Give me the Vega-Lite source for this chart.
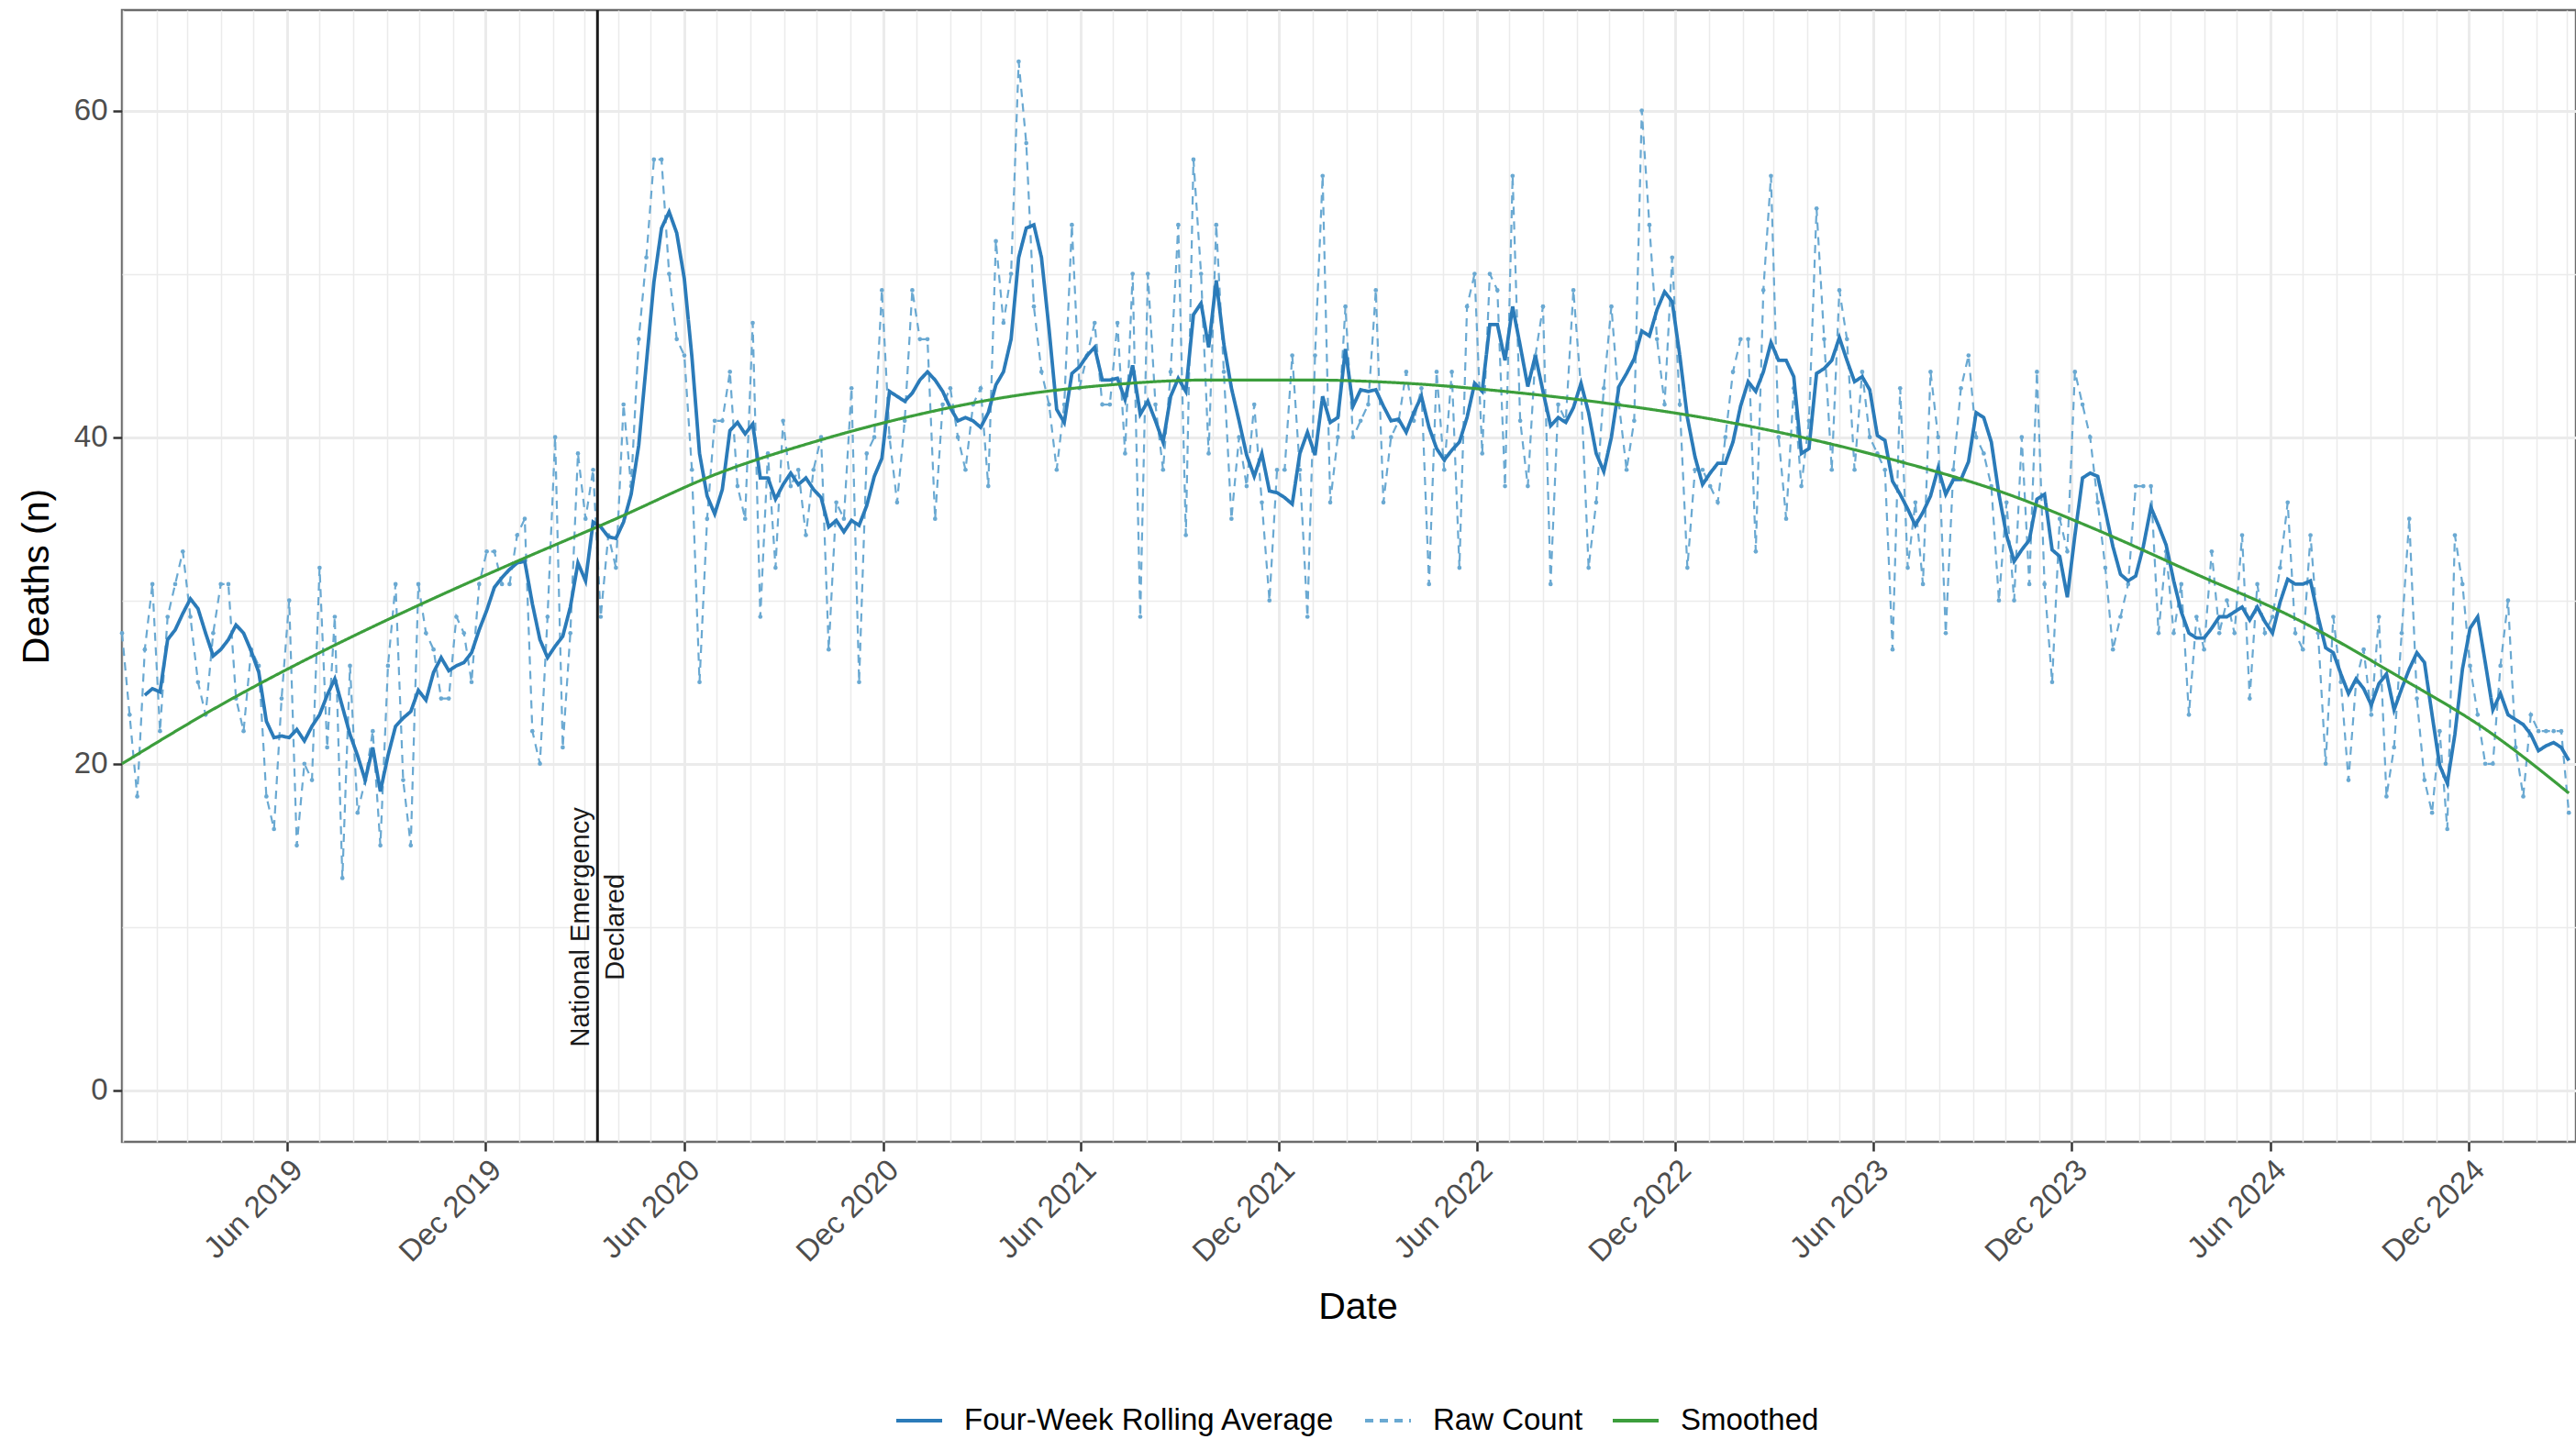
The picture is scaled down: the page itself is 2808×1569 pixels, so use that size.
{
  "$schema": "https://vega.github.io/schema/vega-lite/v6.json",
  "width": 2675,
  "height": 1234,
  "autosize": {"type": "none"},
  "padding": {"left": 133, "top": 11, "right": 0, "bottom": 324},
  "background": "white",
  "config": {
    "font": "Liberation Sans",
    "view": {"stroke": "#6b6b6b", "strokeWidth": 2.5}
  },
  "datasets": {
    "weekly": [
      {"d":"2018-12-31","raw":28,"avg":null},{"d":"2019-01-07","raw":23,"avg":null},{"d":"2019-01-14","raw":18,"avg":null},
      {"d":"2019-01-21","raw":27,"avg":24.2},{"d":"2019-01-28","raw":31,"avg":24.6},{"d":"2019-02-04","raw":22,"avg":24.4},
      {"d":"2019-02-11","raw":29,"avg":27.6},{"d":"2019-02-18","raw":31,"avg":28.2},{"d":"2019-02-25","raw":33,"avg":29.2},
      {"d":"2019-03-04","raw":29,"avg":30.1},{"d":"2019-03-11","raw":25,"avg":29.5},{"d":"2019-03-18","raw":23,"avg":28},
      {"d":"2019-03-25","raw":28,"avg":26.6},{"d":"2019-04-01","raw":31,"avg":27},{"d":"2019-04-08","raw":31,"avg":27.6},
      {"d":"2019-04-15","raw":24,"avg":28.5},{"d":"2019-04-22","raw":22,"avg":28},{"d":"2019-04-29","raw":27,"avg":26.9},
      {"d":"2019-05-06","raw":26,"avg":25.6},{"d":"2019-05-13","raw":18,"avg":22.6},{"d":"2019-05-20","raw":16,"avg":21.6},
      {"d":"2019-05-27","raw":24,"avg":21.7},{"d":"2019-06-03","raw":30,"avg":21.6},{"d":"2019-06-10","raw":15,"avg":22.1},
      {"d":"2019-06-17","raw":20,"avg":21.4},{"d":"2019-06-24","raw":19,"avg":22.3},{"d":"2019-07-01","raw":32,"avg":23},
      {"d":"2019-07-08","raw":21,"avg":24.2},{"d":"2019-07-15","raw":29,"avg":25.2},{"d":"2019-07-22","raw":13,"avg":23.5},
      {"d":"2019-07-29","raw":26,"avg":21.8},{"d":"2019-08-05","raw":17,"avg":20.5},{"d":"2019-08-12","raw":19,"avg":19},
      {"d":"2019-08-19","raw":22,"avg":21},{"d":"2019-08-26","raw":15,"avg":18.3},{"d":"2019-09-02","raw":26,"avg":20.5},
      {"d":"2019-09-09","raw":31,"avg":22.3},{"d":"2019-09-16","raw":19,"avg":22.8},{"d":"2019-09-23","raw":15,"avg":23.2},
      {"d":"2019-09-30","raw":31,"avg":24.5},{"d":"2019-10-07","raw":28,"avg":23.9},{"d":"2019-10-14","raw":27,"avg":25.6},
      {"d":"2019-10-21","raw":24,"avg":26.5},{"d":"2019-10-28","raw":24,"avg":25.7},{"d":"2019-11-04","raw":29,"avg":26},
      {"d":"2019-11-11","raw":28,"avg":26.2},{"d":"2019-11-18","raw":25,"avg":26.8},{"d":"2019-11-25","raw":31,"avg":28.2},
      {"d":"2019-12-02","raw":33,"avg":29.4},{"d":"2019-12-09","raw":33,"avg":30.8},{"d":"2019-12-16","raw":31,"avg":31.4},
      {"d":"2019-12-23","raw":31,"avg":31.9},{"d":"2019-12-30","raw":34,"avg":32.3},
      {"d":"2020-01-06","raw":35,"avg":32.4},{"d":"2020-01-13","raw":22,"avg":29.8},{"d":"2020-01-20","raw":20,"avg":27.6},
      {"d":"2020-01-27","raw":29,"avg":26.5},{"d":"2020-02-03","raw":40,"avg":27.2},{"d":"2020-02-10","raw":21,"avg":27.8},
      {"d":"2020-02-17","raw":28,"avg":29.6},{"d":"2020-02-24","raw":39,"avg":32.3},{"d":"2020-03-02","raw":35,"avg":31.2},
      {"d":"2020-03-09","raw":38,"avg":34.8},{"d":"2020-03-16","raw":29,"avg":34.5},{"d":"2020-03-23","raw":34,"avg":33.9},
      {"d":"2020-03-30","raw":32,"avg":33.8},{"d":"2020-04-06","raw":42,"avg":34.8},{"d":"2020-04-13","raw":37,"avg":36.5},
      {"d":"2020-04-20","raw":46,"avg":39.5},{"d":"2020-04-27","raw":51,"avg":44.5},{"d":"2020-05-04","raw":57,"avg":49.5},
      {"d":"2020-05-11","raw":57,"avg":52.8},{"d":"2020-05-18","raw":50,"avg":53.8},{"d":"2020-05-25","raw":46,"avg":52.5},
      {"d":"2020-06-01","raw":45,"avg":49.7},{"d":"2020-06-08","raw":38,"avg":44.9},{"d":"2020-06-15","raw":25,"avg":39},
      {"d":"2020-06-22","raw":35,"avg":36.4},{"d":"2020-06-29","raw":41,"avg":35.3},{"d":"2020-07-06","raw":41,"avg":36.8},
      {"d":"2020-07-13","raw":44,"avg":40.4},{"d":"2020-07-20","raw":37,"avg":40.9},{"d":"2020-07-27","raw":35,"avg":40.2},
      {"d":"2020-08-03","raw":47,"avg":40.8},{"d":"2020-08-10","raw":29,"avg":37.5},{"d":"2020-08-17","raw":39,"avg":37.5},
      {"d":"2020-08-24","raw":32,"avg":36.2},{"d":"2020-08-31","raw":41,"avg":37.1},{"d":"2020-09-07","raw":37,"avg":37.8},
      {"d":"2020-09-14","raw":38,"avg":37.1},{"d":"2020-09-21","raw":34,"avg":37.5},{"d":"2020-09-28","raw":38,"avg":36.8},
      {"d":"2020-10-05","raw":40,"avg":36.3},{"d":"2020-10-12","raw":27,"avg":34.5},{"d":"2020-10-19","raw":36,"avg":34.9},
      {"d":"2020-10-26","raw":35,"avg":34.2},{"d":"2020-11-02","raw":43,"avg":34.9},{"d":"2020-11-09","raw":25,"avg":34.6},
      {"d":"2020-11-16","raw":39,"avg":35.8},{"d":"2020-11-23","raw":40,"avg":37.6},{"d":"2020-11-30","raw":49,"avg":38.7},
      {"d":"2020-12-07","raw":40,"avg":42.8},{"d":"2020-12-14","raw":36,"avg":42.5},{"d":"2020-12-21","raw":41,"avg":42.2},
      {"d":"2020-12-28","raw":49,"avg":42.7},
      {"d":"2021-01-04","raw":46,"avg":43.5},{"d":"2021-01-11","raw":46,"avg":44},{"d":"2021-01-18","raw":35,"avg":43.5},
      {"d":"2021-01-25","raw":42,"avg":42.8},{"d":"2021-02-01","raw":43,"avg":41.8},{"d":"2021-02-08","raw":40,"avg":41},
      {"d":"2021-02-15","raw":38,"avg":41.2},{"d":"2021-02-22","raw":42,"avg":41},{"d":"2021-03-01","raw":43,"avg":40.6},
      {"d":"2021-03-08","raw":37,"avg":41.5},{"d":"2021-03-15","raw":52,"avg":43.2},{"d":"2021-03-22","raw":47,"avg":44},
      {"d":"2021-03-29","raw":50,"avg":46},{"d":"2021-04-05","raw":63,"avg":51},{"d":"2021-04-12","raw":58,"avg":52.8},
      {"d":"2021-04-19","raw":48,"avg":53},{"d":"2021-04-26","raw":44,"avg":51},{"d":"2021-05-03","raw":42,"avg":46.6},
      {"d":"2021-05-10","raw":38,"avg":41.7},{"d":"2021-05-17","raw":42,"avg":40.9},{"d":"2021-05-24","raw":53,"avg":43.9},
      {"d":"2021-05-31","raw":43,"avg":44.3},{"d":"2021-06-07","raw":45,"avg":45},{"d":"2021-06-14","raw":47,"avg":45.5},
      {"d":"2021-06-21","raw":42,"avg":43.5},{"d":"2021-06-28","raw":42,"avg":43.5},{"d":"2021-07-05","raw":47,"avg":43.6},
      {"d":"2021-07-12","raw":39,"avg":42.3},{"d":"2021-07-19","raw":50,"avg":44.4},{"d":"2021-07-26","raw":29,"avg":41.4},
      {"d":"2021-08-02","raw":50,"avg":42.2},{"d":"2021-08-09","raw":42,"avg":41},{"d":"2021-08-16","raw":38,"avg":39.7},
      {"d":"2021-08-23","raw":44,"avg":42.5},{"d":"2021-08-30","raw":53,"avg":43.6},{"d":"2021-09-06","raw":34,"avg":42.8},
      {"d":"2021-09-13","raw":57,"avg":47.5},{"d":"2021-09-20","raw":50,"avg":48.2},{"d":"2021-09-27","raw":39,"avg":45.5},
      {"d":"2021-10-04","raw":53,"avg":49.6},{"d":"2021-10-11","raw":44,"avg":45.7},{"d":"2021-10-18","raw":35,"avg":43},
      {"d":"2021-10-25","raw":40,"avg":41},{"d":"2021-11-01","raw":37,"avg":38.9},{"d":"2021-11-08","raw":42,"avg":37.6},
      {"d":"2021-11-15","raw":36,"avg":39},{"d":"2021-11-22","raw":30,"avg":36.7},{"d":"2021-11-29","raw":38,"avg":36.6},
      {"d":"2021-12-06","raw":38,"avg":36.3},{"d":"2021-12-13","raw":45,"avg":35.9},{"d":"2021-12-20","raw":38,"avg":39},
      {"d":"2021-12-27","raw":29,"avg":40.3},
      {"d":"2022-01-03","raw":45,"avg":38.9},{"d":"2022-01-10","raw":56,"avg":42.5},{"d":"2022-01-17","raw":36,"avg":40.9},
      {"d":"2022-01-24","raw":40,"avg":41.2},{"d":"2022-01-31","raw":48,"avg":45.4},{"d":"2022-02-07","raw":40,"avg":41.9},
      {"d":"2022-02-14","raw":41,"avg":42.9},{"d":"2022-02-21","raw":42,"avg":42.8},{"d":"2022-02-28","raw":49,"avg":42.9},
      {"d":"2022-03-07","raw":36,"avg":41.9},{"d":"2022-03-14","raw":40,"avg":41},{"d":"2022-03-21","raw":41,"avg":41.1},
      {"d":"2022-03-28","raw":44,"avg":40.3},{"d":"2022-04-04","raw":41,"avg":41.5},{"d":"2022-04-11","raw":43,"avg":42.5},
      {"d":"2022-04-18","raw":31,"avg":40.6},{"d":"2022-04-25","raw":44,"avg":39.3},{"d":"2022-05-02","raw":38,"avg":38.6},
      {"d":"2022-05-09","raw":44,"avg":39.2},{"d":"2022-05-16","raw":32,"avg":39.7},{"d":"2022-05-23","raw":48,"avg":41.2},
      {"d":"2022-05-30","raw":50,"avg":43.3},{"d":"2022-06-06","raw":39,"avg":42.8},{"d":"2022-06-13","raw":50,"avg":46.9},
      {"d":"2022-06-20","raw":49,"avg":46.9},{"d":"2022-06-27","raw":37,"avg":44.7},{"d":"2022-07-04","raw":56,"avg":48},
      {"d":"2022-07-11","raw":41,"avg":45.6},{"d":"2022-07-18","raw":37,"avg":43.1},{"d":"2022-07-25","raw":45,"avg":45},
      {"d":"2022-08-01","raw":48,"avg":42.8},{"d":"2022-08-08","raw":31,"avg":40.7},{"d":"2022-08-15","raw":42,"avg":41.2},
      {"d":"2022-08-22","raw":41,"avg":40.9},{"d":"2022-08-29","raw":49,"avg":41.8},{"d":"2022-09-05","raw":43,"avg":43.3},
      {"d":"2022-09-12","raw":32,"avg":41.5},{"d":"2022-09-19","raw":36,"avg":39},{"d":"2022-09-26","raw":43,"avg":37.9},
      {"d":"2022-10-03","raw":48,"avg":40},{"d":"2022-10-10","raw":42,"avg":43.1},{"d":"2022-10-17","raw":38,"avg":43.9},
      {"d":"2022-10-24","raw":41,"avg":44.8},{"d":"2022-10-31","raw":60,"avg":46.5},{"d":"2022-11-07","raw":53,"avg":46.2},
      {"d":"2022-11-14","raw":46,"avg":47.8},{"d":"2022-11-21","raw":42,"avg":48.9},{"d":"2022-11-28","raw":51,"avg":48.3},
      {"d":"2022-12-05","raw":42,"avg":45},{"d":"2022-12-12","raw":32,"avg":41.2},{"d":"2022-12-19","raw":38,"avg":38.8},
      {"d":"2022-12-26","raw":38,"avg":37.1},
      {"d":"2023-01-02","raw":37,"avg":37.8},{"d":"2023-01-09","raw":36,"avg":38.4},{"d":"2023-01-16","raw":40,"avg":38.4},
      {"d":"2023-01-23","raw":44,"avg":39.7},{"d":"2023-01-30","raw":46,"avg":41.9},{"d":"2023-02-06","raw":46,"avg":43.4},
      {"d":"2023-02-13","raw":33,"avg":42.8},{"d":"2023-02-20","raw":49,"avg":44},{"d":"2023-02-27","raw":56,"avg":45.8},
      {"d":"2023-03-06","raw":40,"avg":44.7},{"d":"2023-03-13","raw":35,"avg":44.7},{"d":"2023-03-20","raw":43,"avg":43.7},
      {"d":"2023-03-27","raw":37,"avg":39},{"d":"2023-04-03","raw":41,"avg":39.3},{"d":"2023-04-10","raw":54,"avg":43.9},
      {"d":"2023-04-17","raw":46,"avg":44.2},{"d":"2023-04-24","raw":38,"avg":44.7},{"d":"2023-05-01","raw":49,"avg":46.1},
      {"d":"2023-05-08","raw":46,"avg":44.7},{"d":"2023-05-15","raw":38,"avg":43.4},{"d":"2023-05-22","raw":44,"avg":43.7},
      {"d":"2023-05-29","raw":40,"avg":42.9},{"d":"2023-06-05","raw":39,"avg":40.1},{"d":"2023-06-12","raw":38,"avg":39.8},
      {"d":"2023-06-19","raw":27,"avg":37.3},{"d":"2023-06-26","raw":43,"avg":36.5},{"d":"2023-07-03","raw":32,"avg":35.6},
      {"d":"2023-07-10","raw":36,"avg":34.6},{"d":"2023-07-17","raw":31,"avg":35.4},{"d":"2023-07-24","raw":44,"avg":36.4},
      {"d":"2023-07-31","raw":40,"avg":38.1},{"d":"2023-08-07","raw":28,"avg":36.5},{"d":"2023-08-14","raw":38,"avg":37.4},
      {"d":"2023-08-21","raw":43,"avg":37.4},{"d":"2023-08-28","raw":45,"avg":38.5},{"d":"2023-09-04","raw":40,"avg":41.5},
      {"d":"2023-09-11","raw":39,"avg":41.2},{"d":"2023-09-18","raw":37,"avg":39.7},{"d":"2023-09-25","raw":30,"avg":36.5},
      {"d":"2023-10-02","raw":36,"avg":34},{"d":"2023-10-09","raw":30,"avg":32.4},{"d":"2023-10-16","raw":40,"avg":33.1},
      {"d":"2023-10-23","raw":31,"avg":33.7},{"d":"2023-10-30","raw":44,"avg":36.2},{"d":"2023-11-06","raw":31,"avg":36.5},
      {"d":"2023-11-13","raw":25,"avg":33.1},{"d":"2023-11-20","raw":35,"avg":32.7},{"d":"2023-11-27","raw":33,"avg":30.2},
      {"d":"2023-12-04","raw":44,"avg":34},{"d":"2023-12-11","raw":42,"avg":37.5},{"d":"2023-12-18","raw":40,"avg":37.8},
      {"d":"2023-12-25","raw":36,"avg":37.6},
      {"d":"2024-01-01","raw":32,"avg":35.5},{"d":"2024-01-08","raw":27,"avg":33.3},{"d":"2024-01-15","raw":29,"avg":31.6},
      {"d":"2024-01-22","raw":31,"avg":31.2},{"d":"2024-01-29","raw":37,"avg":31.5},{"d":"2024-02-05","raw":37,"avg":33.3},
      {"d":"2024-02-12","raw":37,"avg":35.7},{"d":"2024-02-19","raw":28,"avg":34.6},{"d":"2024-02-26","raw":33,"avg":33.4},
      {"d":"2024-03-04","raw":28,"avg":31.2},{"d":"2024-03-11","raw":31,"avg":29.3},{"d":"2024-03-18","raw":23,"avg":28},
      {"d":"2024-03-25","raw":29,"avg":27.7},{"d":"2024-04-01","raw":27,"avg":27.7},{"d":"2024-04-08","raw":33,"avg":28.3},
      {"d":"2024-04-15","raw":28,"avg":29},{"d":"2024-04-22","raw":30,"avg":29},{"d":"2024-04-29","raw":28,"avg":29.3},
      {"d":"2024-05-06","raw":34,"avg":29.6},{"d":"2024-05-13","raw":24,"avg":28.8},{"d":"2024-05-20","raw":31,"avg":29.6},
      {"d":"2024-05-27","raw":28,"avg":28.7},{"d":"2024-06-03","raw":29,"avg":28},{"d":"2024-06-10","raw":32,"avg":29.9},
      {"d":"2024-06-17","raw":36,"avg":31.3},{"d":"2024-06-24","raw":28,"avg":31},{"d":"2024-07-01","raw":27,"avg":31},
      {"d":"2024-07-08","raw":34,"avg":31.2},{"d":"2024-07-15","raw":28,"avg":29},{"d":"2024-07-22","raw":20,"avg":27.1},
      {"d":"2024-07-29","raw":29,"avg":26.8},{"d":"2024-08-05","raw":25,"avg":25.5},{"d":"2024-08-12","raw":19,"avg":24.3},
      {"d":"2024-08-19","raw":25,"avg":25.2},{"d":"2024-08-26","raw":27,"avg":24.6},{"d":"2024-09-02","raw":23,"avg":23.6},
      {"d":"2024-09-09","raw":29,"avg":24.9},{"d":"2024-09-16","raw":18,"avg":25.5},{"d":"2024-09-23","raw":21,"avg":23.3},
      {"d":"2024-09-30","raw":28,"avg":24.6},{"d":"2024-10-07","raw":35,"avg":25.8},{"d":"2024-10-14","raw":24,"avg":26.8},
      {"d":"2024-10-21","raw":19,"avg":26.2},{"d":"2024-10-28","raw":17,"avg":23},{"d":"2024-11-04","raw":22,"avg":19.9},
      {"d":"2024-11-11","raw":16,"avg":18.8},{"d":"2024-11-18","raw":34,"avg":21.8},{"d":"2024-11-25","raw":31,"avg":25.8},
      {"d":"2024-12-02","raw":26,"avg":28.3},{"d":"2024-12-09","raw":23,"avg":29},{"d":"2024-12-16","raw":20,"avg":26.2},
      {"d":"2024-12-23","raw":20,"avg":23.3},{"d":"2024-12-30","raw":26,"avg":24.3},
      {"d":"2025-01-06","raw":30,"avg":23},{"d":"2025-01-13","raw":21,"avg":22.7},{"d":"2025-01-20","raw":18,"avg":22.4},
      {"d":"2025-01-27","raw":23,"avg":21.8},{"d":"2025-02-03","raw":22,"avg":20.8},{"d":"2025-02-10","raw":22,"avg":21.1},
      {"d":"2025-02-17","raw":22,"avg":21.3},{"d":"2025-02-24","raw":22,"avg":21},{"d":"2025-03-03","raw":17,"avg":20.2}
    ],
    "smooth": [
      {"d":"2018-12-31","fit":20.0},{"d":"2019-04-01","fit":23.6},{"d":"2019-07-01","fit":26.8},{"d":"2019-09-30","fit":29.7},
      {"d":"2019-12-30","fit":32.4},{"d":"2020-03-30","fit":35.0},{"d":"2020-06-29","fit":37.7},{"d":"2020-09-28","fit":39.7},
      {"d":"2020-12-28","fit":41.3},{"d":"2021-03-29","fit":42.5},{"d":"2021-06-28","fit":43.2},{"d":"2021-09-27","fit":43.5},
      {"d":"2021-12-27","fit":43.5},{"d":"2022-03-28","fit":43.3},{"d":"2022-06-27","fit":42.8},{"d":"2022-09-26","fit":42.1},
      {"d":"2022-12-26","fit":41.2},{"d":"2023-03-27","fit":40.0},{"d":"2023-06-26","fit":38.5},{"d":"2023-09-25","fit":36.7},
      {"d":"2023-12-25","fit":34.3},{"d":"2024-03-25","fit":31.6},{"d":"2024-06-24","fit":28.9},{"d":"2024-09-23","fit":25.5},
      {"d":"2024-12-23","fit":21.8},{"d":"2025-03-03","fit":18.2}
    ],
    "event": [
      {"d":"2020-03-13","label":"National Emergency\nDeclared"}
    ]
  },
  "encoding": {
    "x": {
      "field": "d",
      "type": "temporal",
      "title": "Date",
      "scale": {
        "type": "utc",
        "nice": false,
        "domain": [
          {"year": 2018, "month": 12, "date": 31, "utc": true},
          {"year": 2025, "month": 3, "date": 9, "hours": 14, "utc": true}
        ]
      },
      "axis": {
        "tickCount": {"interval": "month", "step": 1},
        "labelExpr": "utcmonth(datum.value) % 6 == 5 ? utcFormat(datum.value, '%b %Y') : ''",
        "labelAngle": -45,
        "labelAlign": "right",
        "labelBaseline": "top",
        "labelFontSize": 33,
        "labelColor": "#4d4d4d",
        "labelPadding": 4,
        "labelOverlap": false,
        "labelFlush": false,
        "labelBound": false,
        "grid": true,
        "gridColor": "#ebebeb",
        "gridWidth": {"condition": {"test": "utcmonth(datum.value) % 6 == 5", "value": 3}, "value": 1.5},
        "ticks": true,
        "tickSize": 10,
        "tickWidth": 2.5,
        "tickColor": "#333333",
        "tickOpacity": {"condition": {"test": "utcmonth(datum.value) % 6 == 5", "value": 1}, "value": 0},
        "domain": false,
        "titleFontSize": 41,
        "titleFontWeight": "normal",
        "titleColor": "#000000",
        "titleX": 1347,
        "titleY": 180,
        "titleBaseline": "middle",
        "titleAlign": "center"
      }
    }
  },
  "layer": [
    {
      "data": {"name": "weekly"},
      "mark": {"type": "line", "strokeWidth": 2.2},
      "encoding": {
        "y": {
          "field": "raw",
          "type": "quantitative",
          "title": "Deaths (n)",
          "scale": {"domain": [-3.15, 66.15], "nice": false, "zero": false},
          "axis": {
            "values": [0, 10, 20, 30, 40, 50, 60],
            "labelExpr": "datum.value % 20 == 0 ? datum.label : ''",
            "labelFontSize": 33,
            "labelColor": "#4d4d4d",
            "labelPadding": 6,
            "grid": true,
            "gridColor": "#ebebeb",
            "gridWidth": {"condition": {"test": "datum.value % 20 == 0", "value": 3}, "value": 1.5},
            "tickSize": 10,
            "tickWidth": 2.5,
            "tickColor": "#333333",
            "tickOpacity": {"condition": {"test": "datum.value % 20 == 0", "value": 1}, "value": 0},
            "domain": false,
            "titleFontSize": 41,
            "titleFontWeight": "normal",
            "titleColor": "#000000",
            "titleAngle": -90,
            "titleX": -93,
            "titleY": 617,
            "titleBaseline": "middle",
            "titleAlign": "center"
          }
        },
        "color": {
          "datum": "Raw Count",
          "scale": {
            "domain": ["Four-Week Rolling Average", "Raw Count", "Smoothed"],
            "range": ["#2b7bb9", "#6aa9d2", "#3c9e3c"]
          },
          "legend": {
            "title": null, "orient": "none", "legendX": 842, "legendY": 1511, "direction": "horizontal",
            "symbolType": "stroke", "symbolSize": 2500, "symbolStrokeWidth": 4,
            "labelFontSize": 33, "labelColor": "#000000", "labelOffset": 22, "labelLimit": 0, "columnPadding": 24, "padding": 0
          }
        },
        "strokeDash": {
          "datum": "Raw Count",
          "scale": {
            "domain": ["Four-Week Rolling Average", "Raw Count", "Smoothed"],
            "range": [[1, 0], [9, 7], [1, 0]]
          },
          "legend": {
            "title": null, "orient": "none", "legendX": 842, "legendY": 1511, "direction": "horizontal",
            "symbolType": "stroke", "symbolSize": 2500, "symbolStrokeWidth": 4,
            "labelFontSize": 33, "labelColor": "#000000", "labelOffset": 22, "labelLimit": 0, "columnPadding": 24, "padding": 0
          }
        }
      }
    },
    {
      "data": {"name": "weekly"},
      "mark": {"type": "point", "filled": true, "size": 22, "color": "#6aa9d2", "opacity": 1},
      "encoding": {
        "y": {"field": "raw", "type": "quantitative", "title": "Deaths (n)"}
      }
    },
    {
      "data": {"name": "weekly"},
      "mark": {"type": "line", "strokeWidth": 3.8},
      "encoding": {
        "y": {"field": "avg", "type": "quantitative", "title": "Deaths (n)"},
        "color": {"datum": "Four-Week Rolling Average"},
        "strokeDash": {"datum": "Four-Week Rolling Average"}
      }
    },
    {
      "data": {"name": "smooth"},
      "mark": {"type": "line", "strokeWidth": 3.2, "interpolate": "monotone"},
      "encoding": {
        "y": {"field": "fit", "type": "quantitative", "title": "Deaths (n)"},
        "color": {"datum": "Smoothed"},
        "strokeDash": {"datum": "Smoothed"}
      }
    },
    {
      "data": {"name": "event"},
      "mark": {"type": "rule", "color": "#1a1a1a", "strokeWidth": 3},
      "encoding": {}
    },
    {
      "data": {"name": "event"},
      "mark": {"type": "text", "angle": 270, "align": "center", "baseline": "middle", "fontSize": 29, "lineBreak": "\n", "lineHeight": 38, "dy": -18, "color": "#1a1a1a"},
      "encoding": {
        "y": {"datum": 10},
        "text": {"field": "label"}
      }
    }
  ]
}
